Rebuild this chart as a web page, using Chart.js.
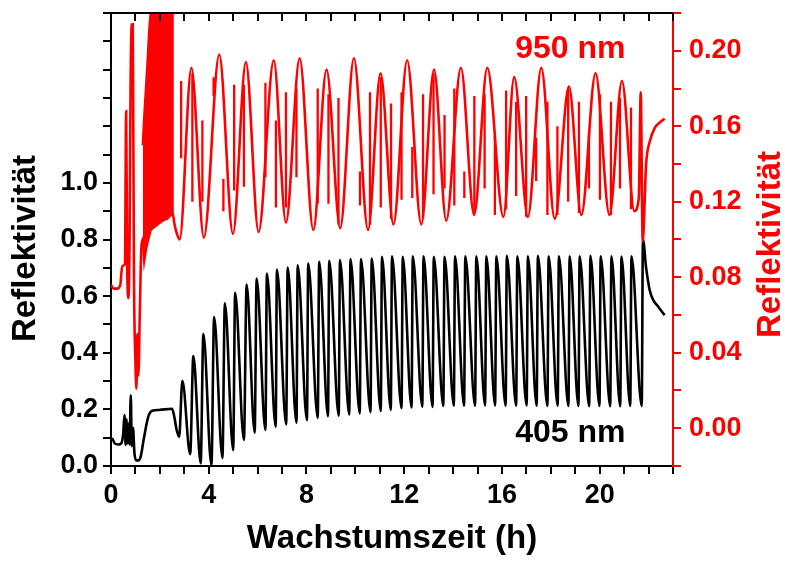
<!DOCTYPE html>
<html>
<head>
<meta charset="utf-8">
<script src="https://cdn.jsdelivr.net/npm/chart.js@4.4.0/dist/chart.umd.min.js"></script>
<style>
  html, body { margin: 0; padding: 0; background: #fff; }
</style>
</head>
<body>
<canvas id="chart" width="785" height="561"></canvas>
<script>
// Schwarze Kurve (405 nm), linke Achse
const blackTraceTime = [0.00, 0.05, 0.15, 0.30, 0.42, 0.50, 0.55, 0.60, 0.64, 0.68, 0.72, 0.76, 0.81, 0.85, 0.90, 0.96, 1.04, 1.12, 1.22, 1.35, 1.53, 1.69, 1.97, 2.50, 2.60, 2.68,
                        21.77, 21.90, 22.05, 22.20, 22.40, 22.55, 22.66];
const blackTraceValue = [0.095, 0.096, 0.080, 0.076, 0.080, 0.115, 0.180, 0.075, 0.165, 0.080, 0.150, 0.075, 0.250, 0.070, 0.135, 0.045, 0.020, 0.020, 0.035, 0.100, 0.175, 0.195, 0.198, 0.202, 0.170, 0.130,
                         0.800, 0.700, 0.620, 0.585, 0.562, 0.545, 0.533];
const blackPeakTime = [2.92, 3.37, 3.78, 4.22, 4.66, 5.08, 5.55, 5.96, 6.38, 6.79, 7.23, 7.64, 8.07, 8.52, 8.93, 9.37, 9.80, 10.23, 10.67, 11.09, 11.50, 11.94,
                       12.35, 12.79, 13.21, 13.65, 14.08, 14.50, 14.95, 15.36, 15.77, 16.20, 16.63, 17.06, 17.47, 17.91, 18.33, 18.77, 19.18, 19.62, 20.04, 20.48, 20.89, 21.30];
const blackPeakValue = [0.301, 0.388, 0.466, 0.526, 0.575, 0.612, 0.641, 0.662, 0.680, 0.694, 0.701, 0.709, 0.715, 0.721, 0.725, 0.727, 0.731, 0.731, 0.733, 0.739, 0.741, 0.739,
                        0.741, 0.741, 0.739, 0.739, 0.741, 0.741, 0.741, 0.741, 0.741, 0.742, 0.741, 0.741, 0.742, 0.741, 0.741, 0.741, 0.741, 0.742, 0.741, 0.741, 0.740, 0.741];
const blackMinTime = [2.79, 3.24, 3.67, 4.11, 4.56, 5.00, 5.44, 5.88, 6.32, 6.74, 7.17, 7.59, 8.02, 8.46, 8.88, 9.32, 9.75, 10.18, 10.62, 11.04, 11.45, 11.89,
                      12.30, 12.74, 13.16, 13.60, 14.03, 14.45, 14.90, 15.31, 15.72, 16.15, 16.58, 17.01, 17.42, 17.86, 18.28, 18.72, 19.13, 19.57, 19.99, 20.43, 20.84, 21.25, 21.72];
const blackMinValue = [0.103, 0.042, 0.010, 0.003, 0.028, 0.056, 0.092, 0.118, 0.127, 0.139, 0.147, 0.153, 0.162, 0.170, 0.176, 0.178, 0.182, 0.186, 0.190, 0.194, 0.198, 0.204,
                       0.207, 0.209, 0.209, 0.212, 0.213, 0.213, 0.213, 0.214, 0.214, 0.213, 0.213, 0.214, 0.213, 0.212, 0.213, 0.212, 0.212, 0.211, 0.212, 0.211, 0.211, 0.212, 0.212];

// Rote Kurve (950 nm), rechte Achse
const redTraceTime = [0.00, 0.10, 0.25, 0.38, 0.46, 0.57, 0.62, 0.66, 0.71, 0.76, 0.80, 0.85, 0.89, 0.94, 1.00, 1.04, 1.08, 1.12, 1.18, 1.24, 1.30,
                      2.52, 2.60, 2.70, 21.60, 21.68, 21.76, 21.90, 22.05, 22.25, 22.46, 22.66];
const redTraceValue = [0.076, 0.074, 0.074, 0.076, 0.086, 0.087, 0.168, 0.090, 0.069, 0.100, 0.180, 0.214, 0.214, 0.080, 0.035, 0.021, 0.050, 0.028, 0.062, 0.095, 0.100,
                       0.114, 0.108, 0.103, 0.122, 0.178, 0.099, 0.140, 0.152, 0.159, 0.162, 0.164];
const redPeakTime = [3.29, 4.43, 5.52, 6.66, 7.72, 8.82, 9.94, 11.03, 12.12, 13.22, 14.32, 15.40, 16.50, 17.61, 18.74, 19.83, 20.91];
const redPeakValue = [0.191, 0.198, 0.194, 0.195, 0.196, 0.190, 0.196, 0.188, 0.195, 0.190, 0.191, 0.191, 0.186, 0.191, 0.181, 0.188, 0.184];
const redMinTime = [2.81, 3.80, 4.99, 6.04, 7.16, 8.28, 9.38, 10.52, 11.56, 12.70, 13.72, 14.86, 16.06, 17.06, 18.16, 19.25, 20.40, 21.42];
const redMinValue = [0.100, 0.101, 0.103, 0.104, 0.109, 0.105, 0.106, 0.105, 0.108, 0.108, 0.110, 0.113, 0.112, 0.112, 0.111, 0.113, 0.113, 0.115];

// dichtes Band am Anfang (1.3 - 2.5 h)
const bandTime = [1.30, 1.36, 1.43, 1.50, 1.56, 1.62, 1.70, 1.90, 2.10, 2.30, 2.45, 2.50, 2.52];
const bandUpper = [0.150, 0.165, 0.180, 0.195, 0.210, 0.220, 0.225, 0.225, 0.225, 0.225, 0.225, 0.225, 0.114];
const bandLower = [0.100, 0.089, 0.095, 0.099, 0.102, 0.105, 0.106, 0.108, 0.110, 0.111, 0.113, 0.114, 0.114];

// Störspitzen im 950-nm-Signal
const spikeTime = [2.87, 3.33, 3.74, 4.20, 4.60, 5.04, 5.44, 6.32, 6.75, 7.16, 7.59, 8.46, 8.90, 9.31, 10.19, 10.60, 11.04, 11.46, 11.89, 12.33, 12.77,
                   13.20, 13.65, 14.05, 14.46, 14.87, 15.29, 15.71, 16.17, 16.58, 16.99, 17.40, 17.86, 18.27, 18.71, 19.15, 19.56, 20.01, 20.46, 20.83, 21.28];
const spikeFrom = [0.143, 0.188, 0.163, 0.176, 0.132, 0.126, 0.182, 0.133, 0.163, 0.117, 0.180, 0.180, 0.177, 0.175, 0.136, 0.178, 0.186, 0.172, 0.178, 0.149, 0.177,
                   0.188, 0.166, 0.180, 0.136, 0.176, 0.177, 0.155, 0.179, 0.173, 0.176, 0.154, 0.173, 0.160, 0.180, 0.173, 0.157, 0.177, 0.173, 0.175, 0.170];
const spikeTo = [0.184, 0.120, 0.120, 0.186, 0.115, 0.182, 0.128, 0.183, 0.117, 0.178, 0.133, 0.119, 0.119, 0.108, 0.118, 0.108, 0.117, 0.111, 0.121, 0.122, 0.111,
                 0.124, 0.127, 0.118, 0.122, 0.114, 0.127, 0.113, 0.116, 0.123, 0.112, 0.131, 0.113, 0.113, 0.120, 0.114, 0.127, 0.121, 0.113, 0.127, 0.116];

const RED = '#ff0000';
const FONT = "'Liberation Sans', Arial, sans-serif";

function toPoints(times, values) {
    return times.map((t, i) => ({ x: t, y: values[i] }));
}

function mergeSorted(...lists) {
    return [].concat(...lists).sort((a, b) => a.x - b.x);
}

const blackPoints = mergeSorted(
    toPoints(blackTraceTime, blackTraceValue),
    toPoints(blackPeakTime, blackPeakValue),
    toPoints(blackMinTime, blackMinValue)
);
const redPoints = mergeSorted(
    toPoints(redTraceTime, redTraceValue),
    toPoints(redPeakTime, redPeakValue),
    toPoints(redMinTime, redMinValue)
);
const spikePoints = [];
spikeTime.forEach((t, i) => {
    spikePoints.push({ x: t, y: spikeFrom[i] }, { x: t, y: spikeTo[i] }, { x: t, y: null });
});

// obere Achse, Achsentitel und Beschriftungen
const extrasPlugin = {
    id: 'extras',
    afterDraw(chart) {
        const { ctx, chartArea, scales } = chart;
        ctx.save();
        ctx.strokeStyle = '#000';
        ctx.lineWidth = 2;
        ctx.beginPath();
        ctx.moveTo(chartArea.left - 1, chartArea.top);
        ctx.lineTo(chartArea.right, chartArea.top);
        scales.x.ticks.forEach(t => {
            const px = Math.round(scales.x.getPixelForValue(t.value));
            ctx.moveTo(px, chartArea.top);
            ctx.lineTo(px, chartArea.top + 8);
        });
        ctx.stroke();

        ctx.font = 'bold 33px ' + FONT;
        ctx.textAlign = 'center';
        ctx.textBaseline = 'middle';
        const midY = (chartArea.top + chartArea.bottom) / 2;

        ctx.save();
        ctx.translate(26, midY + 9);
        ctx.rotate(-Math.PI / 2);
        ctx.fillStyle = '#000';
        ctx.fillText('Reflektivität', 0, 0);
        ctx.restore();

        ctx.save();
        ctx.translate(771, midY + 5);
        ctx.rotate(-Math.PI / 2);
        ctx.fillStyle = RED;
        ctx.fillText('Reflektivität', 0, 0);
        ctx.restore();

        ctx.font = 'bold 32px ' + FONT;
        ctx.fillStyle = RED;
        ctx.fillText('950 nm', scales.x.getPixelForValue(18.8), scales.yR.getPixelForValue(0.2006));
        ctx.fillStyle = '#000';
        ctx.fillText('405 nm', scales.x.getPixelForValue(18.8), scales.y.getPixelForValue(0.116));
        ctx.restore();
    }
};

const lineStyle = { pointRadius: 0, borderWidth: 2.6, fill: false };

function fixVertical(width) {
    return s => {
        s.width = width;
        s.paddingTop = 0;
        s.paddingBottom = 0;
    };
}

new Chart(document.getElementById('chart'), {
    type: 'line',
    data: {
        datasets: [
            { label: 'Spitzen', data: spikePoints, borderColor: RED, tension: 0, spanGaps: false, yAxisID: 'yR', ...lineStyle, borderWidth: 2.3 },
            { label: '950 nm', data: redPoints, borderColor: RED, cubicInterpolationMode: 'monotone', yAxisID: 'yR', ...lineStyle },
            { label: 'Band oben', data: toPoints(bandTime, bandUpper), borderColor: RED, backgroundColor: RED, yAxisID: 'yR', pointRadius: 0, borderWidth: 2.4, fill: '+1' },
            { label: 'Band unten', data: toPoints(bandTime, bandLower), borderColor: RED, yAxisID: 'yR', ...lineStyle },
            { label: '405 nm', data: blackPoints, borderColor: '#000', cubicInterpolationMode: 'monotone', yAxisID: 'y', ...lineStyle }
        ]
    },
    options: {
        responsive: false,
        animation: false,
        layout: { padding: { top: 13, left: 0, right: 0, bottom: 0 } },
        plugins: {
            legend: { display: false },
            tooltip: { enabled: false }
        },
        scales: {
            x: {
                type: 'linear',
                min: 0,
                max: 23,
                afterFit: s => { s.height = 95; },
                border: { display: true, color: '#000', width: 2 },
                grid: { drawOnChartArea: false, drawTicks: true, tickLength: 8, lineWidth: 2, color: '#000' },
                ticks: {
                    stepSize: 1,
                    padding: 5,
                    maxRotation: 0,
                    autoSkip: false,
                    color: '#000',
                    font: { family: FONT, size: 27, weight: 'bold' },
                    callback: v => (v % 4 === 0 ? String(v) : '')
                },
                title: {
                    display: true,
                    text: 'Wachstumszeit (h)',
                    color: '#000',
                    font: { family: FONT, size: 33, weight: 'bold' },
                    padding: { top: 0, bottom: 2 }
                }
            },
            y: {
                position: 'left',
                min: 0,
                max: 1.6,
                afterFit: fixVertical(111),
                border: { display: true, color: '#000', width: 2 },
                grid: { drawOnChartArea: false, drawTicks: true, tickLength: 8, lineWidth: 2, color: '#000' },
                ticks: {
                    stepSize: 0.1,
                    padding: 5,
                    autoSkip: false,
                    color: '#000',
                    font: { family: FONT, size: 27, weight: 'bold' },
                    callback: v => {
                        const k = Math.round(v * 10);
                        return (k % 2 === 0 && k <= 10) ? (k / 10).toFixed(1) : '';
                    }
                }
            },
            yR: {
                position: 'right',
                min: -0.02,
                max: 0.22,
                afterFit: fixVertical(112),
                border: { display: true, color: RED, width: 2 },
                grid: { drawOnChartArea: false, drawTicks: true, tickLength: 8, lineWidth: 2, color: RED },
                ticks: {
                    stepSize: 0.02,
                    padding: 8,
                    autoSkip: false,
                    color: RED,
                    font: { family: FONT, size: 27, weight: 'bold' },
                    callback: v => {
                        const k = Math.round(v * 100);
                        return (k % 4 === 0) ? (k / 100).toFixed(2) : '';
                    }
                }
            }
        }
    },
    plugins: [extrasPlugin]
});
</script>
</body>
</html>
